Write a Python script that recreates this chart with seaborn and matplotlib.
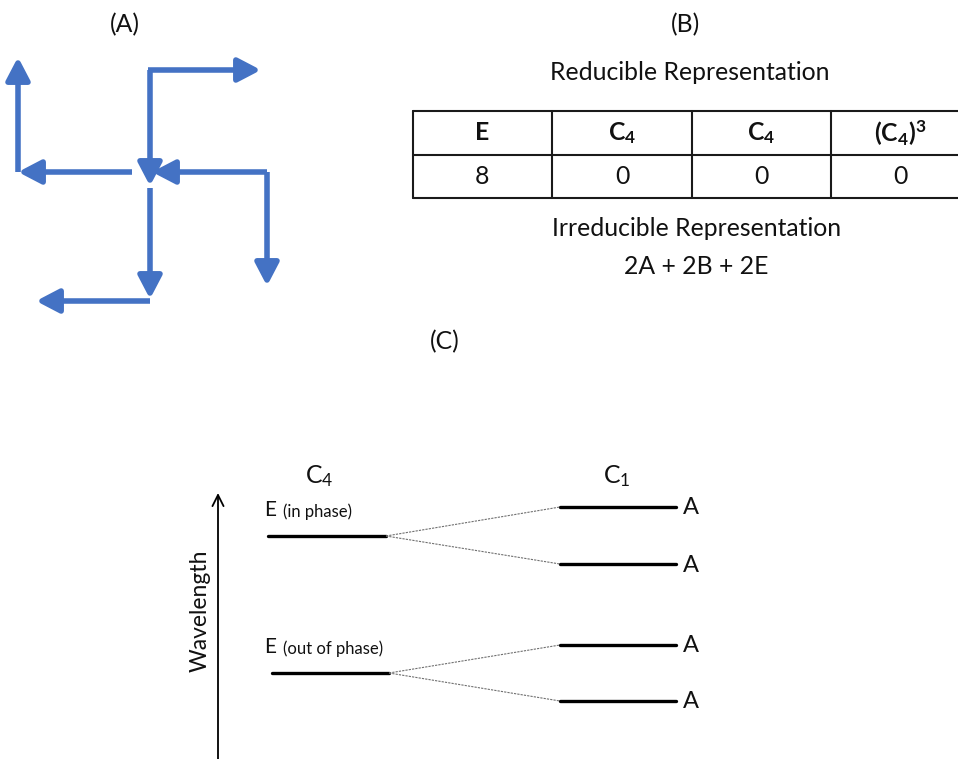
import matplotlib.pyplot as plt
import seaborn as sns
import pandas as pd
from matplotlib.patches import FancyArrowPatch

sns.set_theme(style="white")
plt.rcParams['font.family'] = ['Lato', 'DejaVu Sans']
plt.rcParams['mathtext.default'] = 'regular'
plt.rcParams['text.color'] = '#111111'

# panel A: the eight vector arrows (start x, start y, end x, end y), figure pixels
arrow_x0 = [132, 18, 148, 150, 267, 267, 150, 150]
arrow_y0 = [172, 172, 70, 70, 172, 172, 188, 301]
arrow_x1 = [18, 18, 261, 150, 152, 267, 150, 36]
arrow_y1 = [172, 57, 70, 186, 172, 286, 299, 301]

# panel B: character table
table_head = ['E', 'C$_4$', 'C$_4$', '(C$_4$)$^3$']
table_vals = ['8', '0', '0', '0']
table_cols = [413, 552, 692, 831, 970]
table_rows = [111, 155, 198]

# panel C: correlation diagram
e_labels = ['(in phase)', '(out of phase)']
e_levels = [536, 673]
a_levels = [507, 564, 645, 701]
e_span = (268, 386)
a_span = (560, 676)

blue = '#4472C4'

fig = plt.figure(figsize=(9.58, 7.59), dpi=100)
ax = fig.add_axes([0, 0, 1, 1])

big = 17.8

# ---- (A)
ax.text(125, 25, '(A)', ha='center', va='center', fontsize=big)
for x0, y0, x1, y1 in zip(arrow_x0, arrow_y0, arrow_x1, arrow_y1):
    ax.add_patch(FancyArrowPatch((x0, y0), (x1, y1),
                                 arrowstyle='-|>,head_length=1.15,head_width=0.6',
                                 mutation_scale=12, color=blue, lw=4,
                                 shrinkA=0, shrinkB=0, capstyle='butt'))

# ---- (B)
ax.text(686, 25, '(B)', ha='center', va='center', fontsize=big)
ax.text(690, 72, 'Reducible Representation', ha='center', va='center', fontsize=big)
for y in table_rows:
    ax.plot([table_cols[0], table_cols[-1]], [y, y], color='#1a1a1a', lw=1.5)
for x in table_cols:
    ax.plot([x, x], [table_rows[0], table_rows[-1]], color='#1a1a1a', lw=1.5)
for i in range(4):
    xc = (table_cols[i] + table_cols[i + 1]) / 2
    ax.text(xc, 133, table_head[i], ha='center', va='center',
            fontsize=big, fontweight='bold')
    ax.text(xc, 177, table_vals[i], ha='center', va='center', fontsize=big)
ax.text(697, 228, 'Irreducible Representation', ha='center', va='center', fontsize=big)
ax.text(696, 266, '2A + 2B + 2E', ha='center', va='center', fontsize=big)

# ---- (C)
ax.text(445, 342, '(C)', ha='center', va='center', fontsize=big)
ax.text(319, 476, 'C$_4$', ha='center', va='center', fontsize=big)
ax.text(617, 476, 'C$_1$', ha='center', va='center', fontsize=big)

ax.add_patch(FancyArrowPatch((218, 770), (218, 493), arrowstyle='->,head_length=0.8,head_width=0.4',
                             mutation_scale=10, color='black', lw=1.3, shrinkA=0, shrinkB=0))
ax.text(200, 611, 'Wavelength', rotation=90, ha='center', va='center', fontsize=16.5)

rows = []
for i, y in enumerate(e_levels):
    rows += [{'x': e_span[0] + 4 * i, 'y': y, 'id': f'e{i}'},
             {'x': e_span[1] + 3 * i, 'y': y, 'id': f'e{i}'}]
for j, y in enumerate(a_levels):
    rows += [{'x': a_span[0], 'y': y, 'id': f'a{j}'},
             {'x': a_span[1], 'y': y, 'id': f'a{j}'}]
levels = pd.DataFrame(rows)
sns.lineplot(data=levels, x='x', y='y', units='id', estimator=None, sort=False,
             color='black', lw=2.4, ax=ax, legend=False)

links = []
for i, y in enumerate(e_levels):
    for j in (2 * i, 2 * i + 1):
        links += [{'x': e_span[1] + 3 * i, 'y': y, 'id': f'l{j}'},
                  {'x': a_span[0], 'y': a_levels[j], 'id': f'l{j}'}]
sns.lineplot(data=pd.DataFrame(links), x='x', y='y', units='id', estimator=None,
             sort=False, color='#707070', lw=0.8, ls=(0, (2, 1)), ax=ax, legend=False)

for i, y in enumerate(e_levels):
    ax.text(264, y - 26, 'E', ha='left', va='center', fontsize=15)
    ax.text(283, y - 24.5, e_labels[i], ha='left', va='center', fontsize=12)
for y in a_levels:
    ax.text(691, y + 1, 'A', ha='center', va='center', fontsize=17)

ax.set_xlim(0, 958)
ax.set_ylim(759, 0)
ax.axis('off')
fig.savefig('out.png', dpi=100)
